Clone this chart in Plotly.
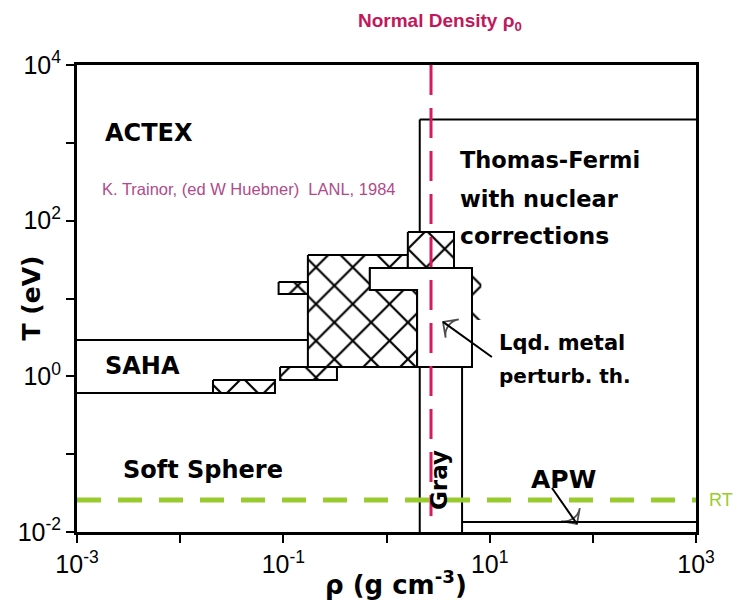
import math
import plotly.graph_objects as go

# ---------------- data ----------------
X_TICKS = [1e-3, 1e-2, 1e-1, 1e0, 1e1, 1e2, 1e3]
X_TICK_TEXT = ["10<sup>-3</sup>", "", "10<sup>-1</sup>", "", "10<sup>1</sup>", "", "10<sup>3</sup>"]
Y_TICKS = [1e-2, 1e-1, 1e0, 1e1, 1e2, 1e3, 1e4]
Y_TICK_TEXT = ["10<sup>-2</sup>", "", "10<sup>0</sup>", "", "10<sup>2</sup>", "", "10<sup>4</sup>"]

RHO_MIN, RHO_MAX = 1e-3, 1e3
T_MIN, T_MAX = 1e-2, 1e4

RHO0 = 2.7          # normal density (g/cm3)
T_ROOM = 0.0258     # room temperature (eV)

# boundary lines (rho, T)
SAHA_TOP_RHO = [1e-3, 0.173];  SAHA_TOP_T = [2.93, 2.93]
SAHA_BOT_RHO = [1e-3, 0.0208]; SAHA_BOT_T = [0.61, 0.61]
TF_RHO = [2.1, 1e3];           TF_T = [2000, 2000]
GRAY_L_RHO = [2.1, 2.1];       GRAY_L_T = [2000, 0.01]
GRAY_R_RHO = [5.4, 5.4];       GRAY_R_T = [1.32, 0.01]
APW_RHO = [5.4, 1e3];          APW_T = [0.0134, 0.0134]

# cross-hatched regions (polygons)
HATCH_BIG_RHO = [0.173, 1.61, 1.61, 0.69, 0.69, 1.98, 1.98, 0.173, 0.173]
HATCH_BIG_T = [36.2, 36.2, 24.7, 24.7, 12.9, 12.9, 1.32, 1.32, 36.2]
HATCH_CO_RHO = [1.61, 4.51, 4.51, 1.61, 1.61]
HATCH_CO_T = [71.4, 71.4, 24.7, 24.7, 71.4]
HATCH_TAB_RHO = [0.09, 0.173, 0.173, 0.09, 0.09]
HATCH_TAB_T = [16.3, 16.3, 11.4, 11.4, 16.3]
HATCH_B_RHO = [0.093, 0.331, 0.331, 0.093, 0.093]
HATCH_B_T = [1.32, 1.32, 0.90, 0.90, 1.32]
HATCH_A_RHO = [0.0208, 0.083, 0.083, 0.0208, 0.0208]
HATCH_A_T = [0.90, 0.90, 0.61, 0.61, 0.90]
HATCH_ZIG_RHO = [6.74, 8.3, 8.3, 6.74, 6.74]
HATCH_ZIG_T = [20.0, 20.0, 5.3, 5.3, 20.0]

# liquid-metal perturbation theory region
LQD_RHO = [0.69, 6.74, 6.74, 1.98, 1.98, 0.69, 0.69]
LQD_T = [24.7, 24.7, 1.32, 1.32, 12.9, 12.9, 24.7]

# arrows (tail -> tip)
LQD_ARROW_RHO = [10.5, 3.53];  LQD_ARROW_T = [1.77, 5.0]
APW_ARROW_RHO = [40.2, 70.2];  APW_ARROW_T = [0.0367, 0.0127]

# region labels: (text, rho, T, anchor, font size)
LABELS = [
    ("ACTEX", 10 ** -2.748, 10 ** 3.126, "left", 24),
    ("Thomas-Fermi", 10 ** 0.693, 10 ** 2.779, "left", 22.5),
    ("with nuclear", 10 ** 0.693, 10 ** 2.278, "left", 22.5),
    ("corrections", 10 ** 0.693, 10 ** 1.803, "left", 23.5),
    ("SAHA", 10 ** -2.748, 10 ** 0.133, "left", 24),
    ("Lqd. metal", 10 ** 1.071, 10 ** 0.428, "left", 21),
    ("perturb. th.", 10 ** 1.071, 10 ** 0.004, "left", 20),
    ("Soft Sphere", 10 ** -2.574, 10 ** -1.204, "left", 24),
    ("APW", 10 ** 1.711, 10 ** -1.319, "center", 25),
]
CREDIT = "K. Trainor, (ed W Huebner)  LANL, 1984"
CREDIT_POS = (10 ** -2.777, 10 ** 2.407)
GRAY_POS = (10 ** 0.509, 10 ** -1.332)
X_TITLE = "ρ (g cm<sup>-3</sup>)"
Y_TITLE = "T (eV)"

PINK = "#d81b60"
GREEN = "#9acb2e"

fig = go.Figure()

def line(xs, ys, width=2):
    fig.add_trace(go.Scatter(x=xs, y=ys, mode="lines", line=dict(color="black", width=width),
                             hoverinfo="skip", showlegend=False))

for xs, ys in [(SAHA_TOP_RHO, SAHA_TOP_T), (SAHA_BOT_RHO, SAHA_BOT_T), (TF_RHO, TF_T),
               (GRAY_L_RHO, GRAY_L_T), (GRAY_R_RHO, GRAY_R_T), (APW_RHO, APW_T)]:
    line(xs, ys)

def hatch(xs, ys, outline=2):
    fig.add_trace(go.Scatter(
        x=xs, y=ys, mode="lines", fill="toself", fillcolor="white",
        fillpattern=dict(shape="x", fgcolor="black", fgopacity=1, bgcolor="white", size=26, solidity=0.16),
        line=dict(color="black", width=outline), hoverinfo="skip", showlegend=False))

for xs, ys in [(HATCH_BIG_RHO, HATCH_BIG_T), (HATCH_CO_RHO, HATCH_CO_T), (HATCH_TAB_RHO, HATCH_TAB_T),
               (HATCH_B_RHO, HATCH_B_T), (HATCH_A_RHO, HATCH_A_T)]:
    hatch(xs, ys)
hatch(HATCH_ZIG_RHO, HATCH_ZIG_T, outline=0)

fig.add_trace(go.Scatter(x=LQD_RHO, y=LQD_T, mode="lines", fill="toself", fillcolor="white",
                         line=dict(color="black", width=2), hoverinfo="skip", showlegend=False))

for xs, ys in [(LQD_ARROW_RHO, LQD_ARROW_T), (APW_ARROW_RHO, APW_ARROW_T)]:
    fig.add_trace(go.Scatter(
        x=xs, y=ys, mode="lines+markers", line=dict(color="black", width=2),
        marker=dict(symbol=["circle", "arrow-wide-open"], size=[0, 16], angleref="previous",
                    color="black", line=dict(color="black", width=1.8)),
        hoverinfo="skip", showlegend=False))

# normal density and room temperature reference lines
fig.add_trace(go.Scatter(x=[RHO0, RHO0], y=[T_MAX, 0.016], mode="lines",
                         line=dict(color=PINK, width=3, dash="30px,13px"),
                         hoverinfo="skip", showlegend=False))
fig.add_trace(go.Scatter(x=[RHO_MIN, RHO_MAX], y=[T_ROOM, T_ROOM], mode="lines",
                         line=dict(color=GREEN, width=5, dash="24px,17px"),
                         hoverinfo="skip", showlegend=False))

ann = []
for text, x, y, anchor, fs in LABELS:
    ann.append(dict(x=math.log10(x), y=math.log10(y), xref="x", yref="y", text=text,
                    showarrow=False, xanchor=anchor, yanchor="middle",
                    font=dict(family="DejaVu Sans", size=fs, color="black", weight="bold")))
ann.append(dict(x=math.log10(CREDIT_POS[0]), y=math.log10(CREDIT_POS[1]), xref="x", yref="y",
                text=CREDIT, showarrow=False, xanchor="left", yanchor="middle",
                font=dict(family="Liberation Sans", size=16.5, color="#b04a8a")))
ann.append(dict(x=math.log10(GRAY_POS[0]), y=math.log10(GRAY_POS[1]), xref="x", yref="y",
                text="Gray", textangle=-90, showarrow=False, xanchor="center", yanchor="middle",
                font=dict(family="DejaVu Sans", size=23, color="black", weight="bold")))
ann.append(dict(x=0.586, y=1.092, xref="paper", yref="paper", text="Normal Density ρ<sub>0</sub>",
                showarrow=False, xanchor="center", yanchor="middle",
                font=dict(family="Liberation Sans", size=19, color="#c2185b", weight="bold")))
ann.append(dict(x=1.018, y=math.log10(T_ROOM), xref="paper", yref="y", text="RT",
                showarrow=False, xanchor="left", yanchor="middle",
                font=dict(family="Liberation Sans", size=18, color=GREEN)))
# axis titles
ann.append(dict(x=0.515, y=-0.109, xref="paper", yref="paper", text=X_TITLE, showarrow=False,
                xanchor="center", yanchor="middle",
                font=dict(family="DejaVu Sans", size=26, color="black", weight="bold")))
ann.append(dict(x=-0.0743, y=0.50, xref="paper", yref="paper", text=Y_TITLE, showarrow=False,
                textangle=-90, xanchor="center", yanchor="middle",
                font=dict(family="DejaVu Sans", size=25, color="black", weight="bold")))

axis_common = dict(type="log", showgrid=False, zeroline=False, showline=True, mirror=True,
                   linecolor="black", linewidth=3, ticks="outside", ticklen=8, tickwidth=2,
                   tickcolor="black", automargin=False,
                   tickfont=dict(family="Liberation Sans", size=25, color="black"))

fig.update_layout(
    width=737, height=603, margin=dict(l=77, r=41, t=65, b=71),
    paper_bgcolor="white", plot_bgcolor="white", showlegend=False,
    xaxis=dict(range=[-3, 3], tickvals=X_TICKS, ticktext=X_TICK_TEXT, **axis_common),
    yaxis=dict(range=[-2, 4], tickvals=Y_TICKS, ticktext=Y_TICK_TEXT, **axis_common),
    annotations=ann,
)

# remove the default page margin so the figure fills the window exactly
fig.write_html("out.html", config={"displayModeBar": False},
               post_script="document.body.style.margin='0';document.body.style.overflow='hidden';")
